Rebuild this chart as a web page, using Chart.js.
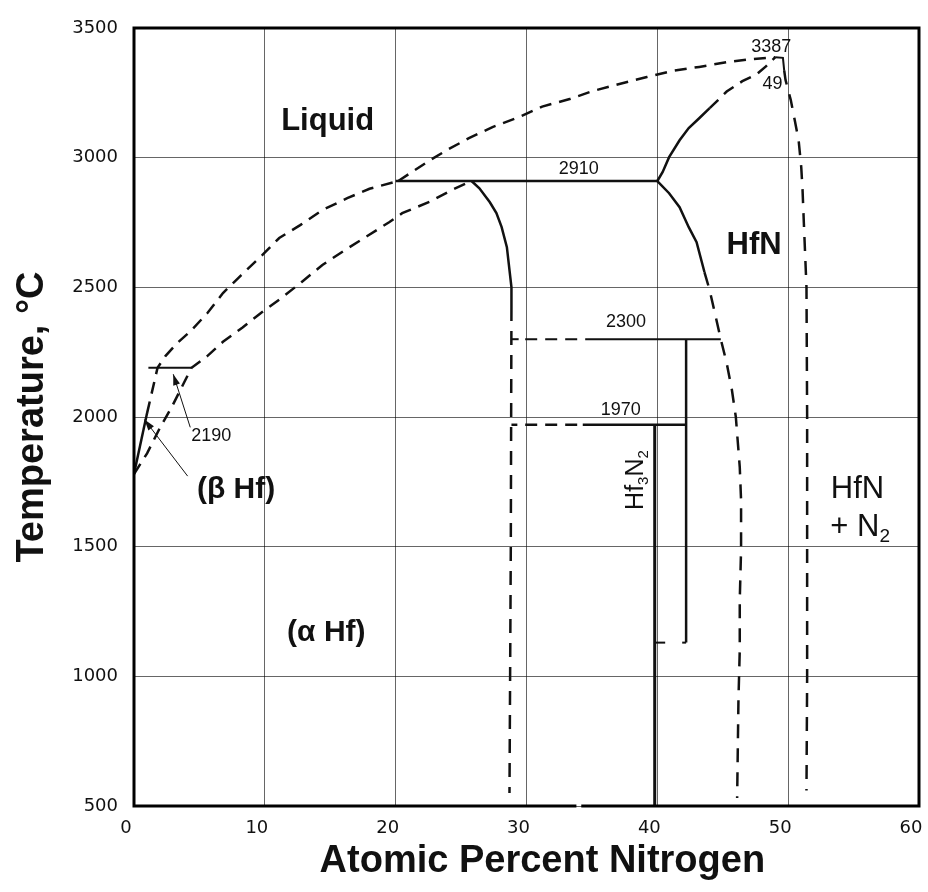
<!DOCTYPE html>
<html>
<head>
<meta charset="utf-8">
<title>Hf-N Phase Diagram</title>
<script src="https://cdn.jsdelivr.net/npm/chart.js@4.4.1/dist/chart.umd.min.js"></script>
<style>
  html, body { margin: 0; padding: 0; background: #fff; }
</style>
</head>
<body>
<canvas id="hfnChart" width="928" height="892"></canvas>
<script>
// axis ticks
const xTicks = [0, 10, 20, 30, 40, 50, 60];
const yTicks = [500, 1000, 1500, 2000, 2500, 3000, 3500];

// phase boundaries as [at.% N, temperature °C]
const betaTransus = [[0, 1780], [1.0, 2015]];
const liquidusAlpha = [[1.0, 2015], [1.8, 2190], [2.4, 2235], [3.3, 2285], [4.3, 2330], [5.6, 2400],
  [6.8, 2478], [8.2, 2547], [9.8, 2624], [11.1, 2690], [12.7, 2740], [14.4, 2798], [16.3, 2844],
  [18.0, 2880], [20.2, 2910]];
const liquidusHfN = [[20.2, 2910], [22.4, 2983], [23.9, 3029], [25.6, 3075], [27.4, 3118], [29.5, 3158],
  [31.2, 3197], [33.3, 3226], [35.0, 3256], [37.1, 3284], [39.2, 3311], [41.1, 3334], [43.2, 3350],
  [45.3, 3368], [47.0, 3379], [49.0, 3387]];
const solidusAlpha = [[0, 1780], [1.0, 1860], [2.0, 1960], [2.9, 2040], [3.8, 2130], [4.4, 2190],
  [5.6, 2235], [6.8, 2290], [8.3, 2345], [9.8, 2405], [11.3, 2460], [12.8, 2520], [14.4, 2586],
  [16.1, 2643], [17.8, 2697], [19.5, 2751], [20.5, 2786], [22.6, 2830], [24.4, 2878], [25.8, 2910]];
const peritectic2190 = [[1.1, 2190], [4.4, 2190]];
const peritectic2910 = [[20.0, 2910], [40.0, 2910]];
const solvusAlpha = [[25.8, 2910], [26.4, 2882], [27.2, 2828], [27.7, 2786], [28.1, 2732], [28.5, 2655],
  [28.7, 2566], [28.85, 2500], [28.85, 2424]];
const solvusAlphaLow = [[28.85, 2424], [28.8, 1500], [28.7, 550]];
const iso2300Corner = [[28.85, 2300], [29.4, 2300]];
const iso2300Dashed = [[29.9, 2300], [34.7, 2300]];
const iso2300 = [[34.7, 2300], [44.85, 2300]];
const iso1970Corner = [[28.85, 1970], [29.3, 1970]];
const iso1970Dashed = [[29.9, 1970], [34.3, 1970]];
const iso1970 = [[34.3, 1970], [42.2, 1970]];
const hf3n2Left = [[39.8, 1970], [39.8, 500]];
const hf3n2Right = [[42.2, 2300], [42.2, 1130]];
const hf3n2FootL = [[39.8, 1130], [40.6, 1130]];
const hf3n2FootR = [[41.9, 1130], [42.2, 1130]];
const solidusHfN = [[40.0, 2910], [40.4, 2944], [40.9, 3002], [41.7, 3067], [42.4, 3114], [43.2, 3152], [44.0, 3191]];
const solidusHfNTop = [[44.0, 3191], [44.7, 3225], [45.3, 3255], [46.5, 3295], [47.6, 3322], [48.3, 3352], [49.0, 3387]];
const hfnLeft = [[40.0, 2910], [40.9, 2863], [41.7, 2809], [42.4, 2732], [43.0, 2674], [43.6, 2559]];
const hfnLeftLow = [[43.6, 2559], [44.0, 2489], [44.4, 2400], [44.85, 2300], [45.3, 2208], [45.7, 2104],
  [46.0, 2000], [46.3, 1807], [46.4, 1680], [46.4, 1487], [46.3, 1294], [46.3, 1101], [46.2, 909], [46.1, 531]];
const hfnCap = [[49.0, 3387], [49.6, 3385], [49.7, 3335]];
const hfnRight = [[49.7, 3335], [49.8, 3299], [50.2, 3222], [50.5, 3145], [50.8, 3067], [51.0, 2963],
  [51.1, 2875], [51.2, 2747], [51.4, 2500], [51.45, 2000], [51.45, 1500], [51.45, 1000], [51.4, 560]];
const pointer2190 = [[4.3, 1960], [3.0, 2165]];
const pointerBeta = [[4.1, 1772], [0.8, 1990]];

const DASH = [12, 8];
const VDASH = [14, 10];

function line(points, dash, width) {
  return {
    data: points.map(([x, y]) => ({ x, y })),
    showLine: true,
    borderColor: '#111',
    borderWidth: width || 2.5,
    borderDash: dash || [],
    pointRadius: 0,
    fill: false,
    tension: 0
  };
}

// region names and isotherm values, placed in data units
const notes = [
  { runs: [['Liquid']], x: 14.8, y: 3140, size: 31, weight: 'bold' },
  { runs: [['2910']], x: 34.0, y: 2956, size: 18 },
  { runs: [['3387']], x: 48.7, y: 3425, size: 18 },
  { runs: [['49']], x: 48.8, y: 3283, size: 18 },
  { runs: [['HfN']], x: 47.4, y: 2660, size: 31, weight: 'bold' },
  { runs: [['2300']], x: 37.6, y: 2366, size: 18 },
  { runs: [['1970']], x: 37.2, y: 2027, size: 18 },
  { runs: [['2190']], x: 5.9, y: 1925, size: 18 },
  { runs: [['(β Hf)']], x: 7.8, y: 1720, size: 30, weight: 'bold' },
  { runs: [['(α Hf)']], x: 14.7, y: 1167, size: 30, weight: 'bold' },
  { runs: [['Hf'], ['3', true], ['N'], ['2', true]], x: 38.4, y: 1757, size: 25, rotate: -Math.PI / 2 },
  { runs: [['HfN']], x: 55.3, y: 1720, size: 31 },
  { runs: [['+ N'], ['2', true]], x: 55.5, y: 1575, size: 31 }
];

function drawRuns(ctx, note, px, py) {
  const fam = '"Liberation Sans", Arial, sans-serif';
  const w = note.weight || 'normal';
  const fontFor = sub => w + ' ' + (sub ? Math.round(note.size * 0.6) : note.size) + 'px ' + fam;
  let total = 0;
  note.runs.forEach(([t, sub]) => { ctx.font = fontFor(sub); total += ctx.measureText(t).width; });
  ctx.save();
  ctx.translate(px, py);
  if (note.rotate) ctx.rotate(note.rotate);
  ctx.fillStyle = '#111';
  ctx.textBaseline = 'middle';
  ctx.textAlign = 'left';
  let cx = -total / 2;
  note.runs.forEach(([t, sub]) => {
    ctx.font = fontFor(sub);
    ctx.fillText(t, cx, sub ? note.size * 0.3 : 0);
    cx += ctx.measureText(t).width;
  });
  ctx.restore();
}

const diagramDecor = {
  id: 'diagramDecor',
  afterDatasetsDraw(chart) {
    const { ctx, chartArea: a, scales: { x, y } } = chart;

    // arrowheads on the two pointer lines
    [pointer2190, pointerBeta].forEach(p => {
      const x0 = x.getPixelForValue(p[0][0]), y0 = y.getPixelForValue(p[0][1]);
      const x1 = x.getPixelForValue(p[1][0]), y1 = y.getPixelForValue(p[1][1]);
      const ang = Math.atan2(y1 - y0, x1 - x0);
      ctx.save();
      ctx.translate(x1, y1);
      ctx.rotate(ang);
      ctx.beginPath();
      ctx.moveTo(0, 0);
      ctx.lineTo(-11, -3.5);
      ctx.lineTo(-11, 3.5);
      ctx.closePath();
      ctx.fillStyle = '#111';
      ctx.fill();
      ctx.restore();
    });

    notes.forEach(n => drawRuns(ctx, n, x.getPixelForValue(n.x), y.getPixelForValue(n.y)));

    // heavy frame, bottom edge broken near 34 at.%
    ctx.save();
    ctx.strokeStyle = '#000';
    ctx.lineWidth = 3;
    ctx.lineCap = 'square';
    ctx.beginPath();
    ctx.moveTo(a.left, a.bottom);
    ctx.lineTo(a.left, a.top);
    ctx.lineTo(a.right, a.top);
    ctx.lineTo(a.right, a.bottom);
    ctx.lineTo(x.getPixelForValue(34.3), a.bottom);
    ctx.moveTo(x.getPixelForValue(33.7), a.bottom);
    ctx.lineTo(a.left, a.bottom);
    ctx.stroke();
    ctx.restore();
  }
};

Chart.defaults.font.family = '"DejaVu Sans", sans-serif';
Chart.defaults.color = '#111';

const titleFont = { size: 38, weight: 'bold', family: '"Liberation Sans", Arial, sans-serif' };

new Chart(document.getElementById('hfnChart').getContext('2d'), {
  type: 'scatter',
  data: {
    datasets: [
      line(betaTransus),
      line(liquidusAlpha, DASH),
      line(liquidusHfN, DASH),
      line(solidusAlpha, DASH),
      line(peritectic2190, [], 2),
      line(peritectic2910),
      line(solvusAlpha),
      line(solvusAlphaLow, VDASH),
      line(iso2300Corner, [], 2),
      line(iso2300Dashed, DASH, 2),
      line(iso2300, [], 2),
      line(iso1970Corner, [], 2.5),
      line(iso1970Dashed, DASH, 2.5),
      line(iso1970, [], 2.5),
      line(hf3n2Left, [], 3),
      line(hf3n2Right, [], 2.5),
      line(hf3n2FootL, [], 2),
      line(hf3n2FootR, [], 2),
      line(solidusHfN),
      line(solidusHfNTop, DASH),
      line(hfnLeft),
      line(hfnLeftLow, VDASH),
      line(hfnCap, [], 2),
      line(hfnRight, VDASH),
      line(pointer2190, [], 1),
      line(pointerBeta, [], 1)
    ]
  },
  options: {
    responsive: false,
    animation: false,
    layout: { padding: { top: 28, right: 9, left: 0, bottom: 0 } },
    plugins: {
      legend: { display: false },
      tooltip: { enabled: false }
    },
    scales: {
      x: {
        type: 'linear',
        min: xTicks[0],
        max: xTicks[xTicks.length - 1],
        afterBuildTicks: scale => { scale.ticks = xTicks.map(v => ({ value: v })); },
        afterFit: scale => { scale.height = 86; scale.paddingLeft = 0; scale.paddingRight = 0; },
        border: { display: false },
        grid: { color: 'rgba(0,0,0,0.6)', lineWidth: 1, drawTicks: false },
        ticks: { padding: 12, labelOffset: -8, font: { size: 18 }, callback: v => String(v) },
        title: {
          display: true,
          // leading spaces nudge the title right of the plot centre
          text: '   Atomic Percent Nitrogen',
          font: titleFont,
          padding: { top: 0, bottom: 8 }
        }
      },
      y: {
        type: 'linear',
        min: yTicks[0],
        max: yTicks[yTicks.length - 1],
        afterBuildTicks: scale => { scale.ticks = yTicks.map(v => ({ value: v })); },
        afterFit: scale => { scale.width = 134; scale.paddingTop = 0; scale.paddingBottom = 0; },
        border: { display: false },
        grid: { color: 'rgba(0,0,0,0.6)', lineWidth: 1, drawTicks: false },
        ticks: { padding: 16, font: { size: 18 }, callback: v => String(v) },
        title: {
          display: true,
          text: 'Temperature, °C',
          font: titleFont,
          padding: { top: 10, bottom: 0 }
        }
      }
    }
  },
  plugins: [diagramDecor]
});
</script>
</body>
</html>
